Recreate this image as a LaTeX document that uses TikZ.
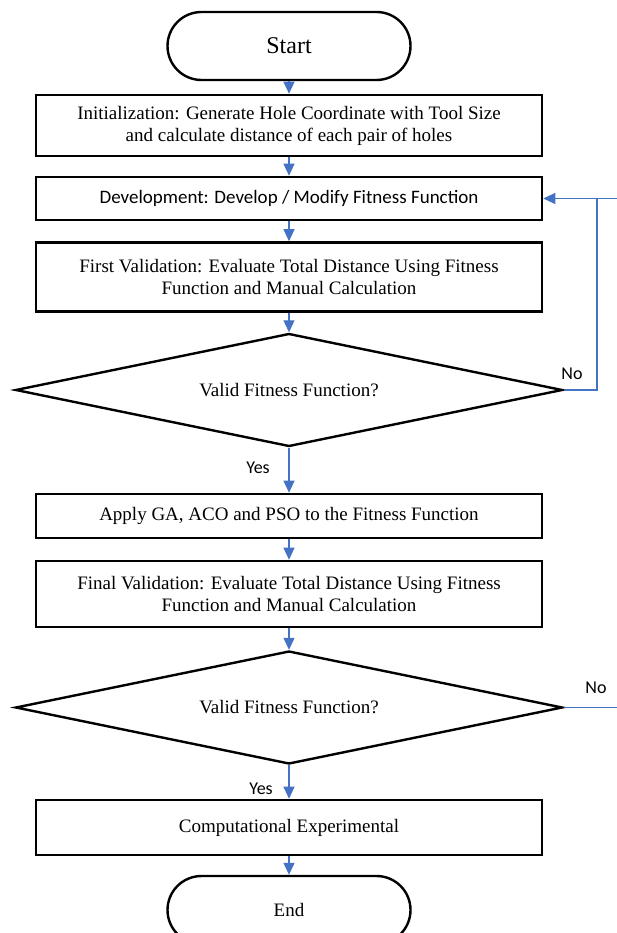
\documentclass[tikz,border=0pt]{standalone}
\usepackage{fontspec}
\setmainfont{Liberation Serif}
\newfontfamily\calibri{Carlito}
\usetikzlibrary{arrows.meta,shapes.geometric}
\definecolor{flowblue}{HTML}{4472C4}

\begin{document}
\begin{tikzpicture}[x=1pt,y=-1pt,
  term/.style={draw, line width=2.4pt, rounded corners=34pt, minimum width=243pt, minimum height=68pt, inner sep=0pt},
  procbox/.style={draw, line width=2.6pt, minimum width=506pt, inner sep=0pt, font=\fontsize{19}{22}\selectfont},
  decision/.style={draw, diamond, line width=2.4pt, shape aspect=4.9, minimum width=547pt, minimum height=113pt, inner sep=0pt, font=\fontsize{19}{23}\selectfont},
  flow/.style={draw=flowblue, line width=1.1pt, -{Triangle[width=11pt,length=12pt]}},
  link/.style={draw=flowblue, line width=1.1pt},
  answer/.style={font=\calibri\fontsize{18}{20}\selectfont}]
\useasboundingbox (0,0) rectangle (617,933);

\node[term, font=\fontsize{24}{26}\selectfont] (start) at (289,46) {Start};
\node[procbox, minimum height=61pt, align=center] (init) at (289,125.5) {Initialization: Generate Hole Coordinate with Tool Size\\and calculate distance of each pair of holes};
\node[procbox, minimum height=43pt, font=\calibri\fontsize{19}{23}\selectfont] (dev) at (289,198.5) {Development: Develop / Modify Fitness Function};
\node[procbox, minimum height=69pt, align=center] (firstval) at (289,277) {First Validation: Evaluate Total Distance Using Fitness\\Function and Manual Calculation};
\node[decision] (check1) at (289,390) {Valid Fitness Function?};
\node[procbox, minimum height=44pt] (apply) at (289,516) {Apply GA, ACO and PSO to the Fitness Function};
\node[procbox, minimum height=66pt, align=center] (finalval) at (289,594) {Final Validation: Evaluate Total Distance Using Fitness\\Function and Manual Calculation};
\node[decision] (check2) at (289,707.5) {Valid Fitness Function?};
\node[procbox, minimum height=55pt] (comp) at (289,827.5) {Computational Experimental};
\node[term, font=\fontsize{19}{23}\selectfont] (stop) at (289,910) {End};

\coordinate (back) at (597,198.5);
\coordinate (edge1) at (617,198.5);
\coordinate (edge2) at (617,707.5);

\draw[flow] (start) -- (init);
\draw[flow] (init) -- (dev);
\draw[flow] (dev) -- (firstval);
\draw[flow] (firstval) -- (check1);
\draw[flow] (check1) -- (apply);
\draw[flow] (apply) -- (finalval);
\draw[flow] (finalval) -- (check2);
\draw[flow] (check2) -- (comp);
\draw[flow] (comp) -- (stop);

% loop back for a failed check
\draw[flow] (check1.east) -| (back) -- (dev.east);
\draw[link] (edge1) -- (back);
\draw[link] (check2.east) -- (edge2);

\node[answer] (no1) at (572,374) {No};
\node[answer] (yes1) at (258,468) {Yes};
\node[answer] (no2) at (596,688) {No};
\node[answer] (yes2) at (261,789) {Yes};
\end{tikzpicture}
\end{document}
